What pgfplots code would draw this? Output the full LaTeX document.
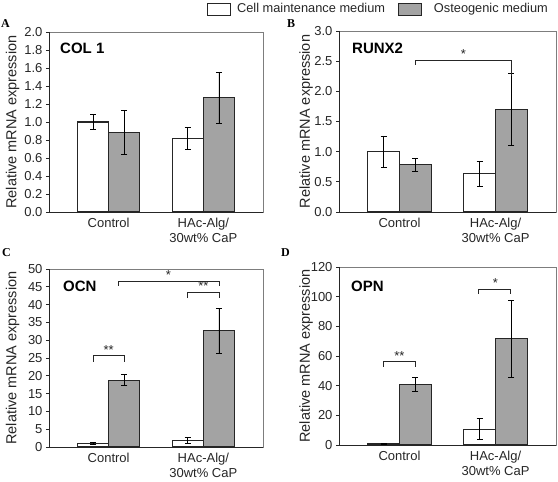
\documentclass[border=0pt]{standalone}
\usepackage{pgfplots}
\pgfplotsset{compat=1.18}
\usepackage{fontspec}
\setmainfont{Liberation Sans}
\newfontfamily\lsserif{Liberation Serif}

\definecolor{bargray}{RGB}{163,163,163}
\definecolor{framegray}{RGB}{125,125,125}

\tikzset{
  sig/.style={draw=black!85, line width=0.9pt},
  star/.style={font=\fontsize{13}{14}\selectfont, anchor=south, inner sep=1pt, text=black!85},
  ttl/.style={anchor=north west, inner sep=0pt, font=\bfseries\fontsize{15}{17}\selectfont},
  plbl/.style={anchor=north west, inner sep=0pt, font=\lsserif\bfseries\fontsize{12}{13}\selectfont},
}

\pgfplotsset{
  panel/.style={
    scale only axis,
    width=214pt, height=180pt,
    ybar=0pt, bar width=0.33,
    xmin=-0.63, xmax=1.63,
    ymin=0,
    xtick={0,1},
    xticklabels={Control, {HAc-Alg/\\30wt\% CaP}},
    xticklabel style={align=center, text=black!85, font=\fontsize{13}{14.5}\selectfont},
    x tick style={draw=none},
    yticklabel style={text=black!85, font=\fontsize{13}{15}\selectfont},
    y tick style={black!85, line width=0.8pt},
    tick align=outside, major tick length=3pt,
    ytick pos=left,
    axis line style={framegray, line width=0.8pt},
    ylabel={Relative mRNA expression},
    ylabel style={text=black!85, font=\fontsize{14.5}{16}\selectfont, at={(axis description cs:-0.17,0.5)}, anchor=center},
    /pgf/number format/assume math mode=true,
    after end axis/.code={
      \draw[black!85, line width=0.9pt] (rel axis cs:0,1) -- (rel axis cs:0,0) -- (rel axis cs:1,0);
    },
  },
  errb/.style={error bars/.cd, y dir=both, y explicit,
    error bar style={black, line width=0.9pt},
    error mark options={black, line width=0.9pt, mark size=3pt, rotate=90}},
  wbar/.style={fill=white, draw=black!85, line width=1.1pt, errb},
  gbar/.style={fill=bargray, draw=black!85, line width=1.1pt, errb},
}

\begin{document}
\begin{tikzpicture}
% ---------------- A: COL 1
\begin{axis}[panel, at={(49pt,270pt)}, anchor=south west,
  width=214pt, height=180pt,
  ymax=2.0, ytick={0,0.2,0.4,0.6,0.8,1.0,1.2,1.4,1.6,1.8,2.0},
  yticklabel style={/pgf/number format/.cd, fixed, fixed zerofill, precision=1},
  legend style={at={(axis description cs:0.7243,1.128)}, anchor=west, draw=none, fill=none,
    legend columns=2, font=\fontsize{12.8}{14}\selectfont, text=black!85},
]
\addplot[legend image code/.code={\draw[fill=white, draw=black!85, line width=0.9pt] (0pt,-6pt) rectangle (23pt,6pt);}, wbar]
  coordinates {(0,1.00) +- (0,0.08) (1,0.82) +- (0,0.12)};
\addplot[legend image code/.code={\draw[fill=bargray, draw=black!85, line width=0.9pt] (0pt,-6pt) rectangle (23pt,6pt);}, gbar]
  coordinates {(0,0.88) +- (0,0.245) (1,1.27) +- (0,0.285)};
\legend{\rule{4pt}{0pt}Cell maintenance medium\rule{11pt}{0pt}, \rule{10pt}{0pt}Osteogenic medium}
\node[ttl] at (rel axis cs:0,1) [xshift=11pt, yshift=-11pt] {COL 1};
\end{axis}

% ---------------- B: RUNX2
\begin{axis}[panel, at={(339pt,270pt)}, anchor=south west,
  width=217pt, height=181pt,
  ymax=3.0, ytick={0,0.5,1.0,1.5,2.0,2.5,3.0},
  yticklabel style={/pgf/number format/.cd, fixed, fixed zerofill, precision=1},
  ylabel style={at={(axis description cs:-0.152,0.5)}},
]
\addplot[wbar] coordinates {(0,1.00) +- (0,0.26) (1,0.635) +- (0,0.21)};
\addplot[gbar] coordinates {(0,0.78) +- (0,0.10) (1,1.70) +- (0,0.60)};
\draw[sig] (axis cs:0.165,2.44) -- (axis cs:0.165,2.51) -- (axis cs:1.165,2.51) -- (axis cs:1.165,2.25);
\node[star] at (axis cs:0.665,2.52) {*};
\node[ttl] at (rel axis cs:0,1) [xshift=13pt, yshift=-12pt] {RUNX2};
\end{axis}

% ---------------- C: OCN
\begin{axis}[panel, at={(49pt,35pt)}, anchor=south west,
  width=214pt, height=178pt,
  ymax=50, ytick={0,5,10,15,20,25,30,35,40,45,50},
]
\addplot[wbar] coordinates {(0,1.0) +- (0,0.15) (1,1.8) +- (0,0.8)};
\addplot[gbar] coordinates {(0,18.8) +- (0,1.5) (1,32.6) +- (0,6.3)};
\draw[sig] (axis cs:-0.165,24.0) -- (axis cs:-0.165,25.6) -- (axis cs:0.165,25.6) -- (axis cs:0.165,24.0);
\node[star] at (axis cs:0,25.7) {**};
\draw[sig] (axis cs:0.835,41.8) -- (axis cs:0.835,43.4) -- (axis cs:1.165,43.4) -- (axis cs:1.165,41.8);
\node[star] at (axis cs:1,43.5) {**};
\draw[sig] (axis cs:0.1,45.3) -- (axis cs:0.1,46.5) -- (axis cs:1.165,46.5) -- (axis cs:1.165,45.3);
\node[star] at (axis cs:0.63,46.6) {*};
\node[ttl] at (rel axis cs:0,1) [xshift=14pt, yshift=-12pt] {OCN};
\end{axis}

% ---------------- D: OPN
\begin{axis}[panel, at={(339pt,37pt)}, anchor=south west,
  width=217pt, height=178pt,
  ymax=120, ytick={0,20,40,60,80,100,120},
  ylabel style={at={(axis description cs:-0.152,0.5)}},
]
\addplot[wbar] coordinates {(0,1.0) +- (0,0.3) (1,10.7) +- (0,7.2)};
\addplot[gbar] coordinates {(0,41.0) +- (0,4.6) (1,71.5) +- (0,26.2)};
\draw[sig] (axis cs:-0.165,52.6) -- (axis cs:-0.165,56.2) -- (axis cs:0.165,56.2) -- (axis cs:0.165,52.6);
\node[star] at (axis cs:0,56.4) {**};
\draw[sig] (axis cs:0.825,101.9) -- (axis cs:0.825,105) -- (axis cs:1.16,105) -- (axis cs:1.16,101.9);
\node[star] at (axis cs:1,105.2) {*};
\node[ttl] at (rel axis cs:0,1) [xshift=12pt, yshift=-14pt] {OPN};
\end{axis}

% panel letters
\node[plbl] at (1pt,463pt) {A};
\node[plbl] at (287pt,463pt) {B};
\node[plbl] at (2pt,234pt) {C};
\node[plbl] at (281pt,234pt) {D};

\pgfresetboundingbox
\useasboundingbox (0,0) rectangle (558pt,482pt);
\end{tikzpicture}
\end{document}
